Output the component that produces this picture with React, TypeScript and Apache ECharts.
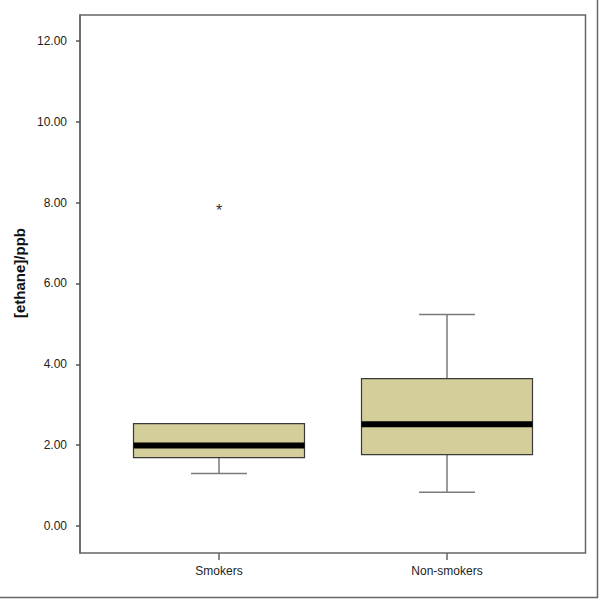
import React, { useEffect, useRef } from "react";
import * as echarts from "echarts";

const categories = ["Smokers", "Non-smokers"];
// [min, Q1, median, Q3, max]
const boxMin = [1.3, 0.834];
const boxQ1 = [1.69, 1.764];
const boxMedian = [1.99, 2.516];
const boxQ3 = [2.531, 3.645];
const boxMax = [2.531, 5.23];
// outliers: [categoryIndex, value]
const outlierCategory = [0];
const outlierValue = [7.905];
const yTicks = [0, 2, 4, 6, 8, 10, 12];

const FONT = "Arial, 'Liberation Sans', sans-serif";

export default function App() {
  const ref = useRef<HTMLDivElement>(null);
  useEffect(() => {
    document.body.style.margin = "0";
    const chart = echarts.init(ref.current!, null, { renderer: "svg" });
    const boxData = categories.map((_, i) => [i, boxMin[i], boxQ1[i], boxMedian[i], boxQ3[i], boxMax[i]]);
    const outData = outlierCategory.map((c, i) => [c, outlierValue[i]]);
    const option: any = {
      animation: false,
      backgroundColor: "#ffffff",
      grid: { left: 105, right: 39, top: 15, bottom: 47 },
      xAxis: {
        type: "category",
        data: categories,
        boundaryGap: true,
        axisLine: { show: false, onZero: false },
        axisTick: { show: true, alignWithLabel: true, length: 7, lineStyle: { color: "#666", width: 1.5 } },
        axisLabel: { color: "#222", fontSize: 12, fontFamily: FONT, margin: 12 },
        splitLine: { show: false },
      },
      yAxis: {
        type: "value",
        min: -0.668,
        max: 12.643,
        offset: 25,
        axisLine: { show: true, lineStyle: { color: "#666", width: 1.5 } },
        axisTick: { show: true, length: 4, customValues: yTicks, lineStyle: { color: "#555", width: 1.5 } },
        axisLabel: {
          color: "#222",
          fontSize: 12,
          fontFamily: FONT,
          margin: 13,
          customValues: yTicks,
          formatter: (v: number) => v.toFixed(2),
        },
        splitLine: { show: false },
      },
      graphic: [
        {
          type: "rect",
          shape: { x: 80, y: 15, width: 505.5, height: 538 },
          style: { fill: "none", stroke: "#666", lineWidth: 1.5 },
          z: 0,
          silent: true,
        },
        {
          type: "line",
          shape: { x1: 597.5, y1: 0, x2: 597.5, y2: 598 },
          style: { stroke: "#666", lineWidth: 1.5 },
          silent: true,
        },
        {
          type: "line",
          shape: { x1: 0, y1: 597.5, x2: 598, y2: 597.5 },
          style: { stroke: "#666", lineWidth: 1.5 },
          silent: true,
        },
        {
          type: "text",
          x: 19,
          y: 273,
          rotation: Math.PI / 2,
          style: {
            text: "[ethane]/ppb",
            font: `bold 15px ${FONT}`,
            fill: "#111",
            textAlign: "center",
            textVerticalAlign: "middle",
          },
          silent: true,
        },
      ],
      series: [
        {
          type: "custom",
          data: boxData,
          z: 5,
          renderItem: (params: any, api: any) => {
            const idx = api.value(0);
            const band = api.size([1, 0])[0];
            const pMin = api.coord([idx, api.value(1)]);
            const pQ1 = api.coord([idx, api.value(2)]);
            const pMed = api.coord([idx, api.value(3)]);
            const pQ3 = api.coord([idx, api.value(4)]);
            const pMax = api.coord([idx, api.value(5)]);
            const cx = pMed[0];
            const bw = band * 0.75;
            const cw = band * 0.245;
            const children: any[] = [];
            const whisker = { stroke: "#7a7a7a", lineWidth: 1.5 };
            if (pMax[1] < pQ3[1] - 0.5) {
              children.push({ type: "line", shape: { x1: cx, y1: pQ3[1], x2: cx, y2: pMax[1] }, style: whisker });
              children.push({ type: "line", shape: { x1: cx - cw / 2, y1: pMax[1], x2: cx + cw / 2, y2: pMax[1] }, style: whisker });
            }
            if (pMin[1] > pQ1[1] + 0.5) {
              children.push({ type: "line", shape: { x1: cx, y1: pQ1[1], x2: cx, y2: pMin[1] }, style: whisker });
              children.push({ type: "line", shape: { x1: cx - cw / 2, y1: pMin[1], x2: cx + cw / 2, y2: pMin[1] }, style: whisker });
            }
            children.push({
              type: "rect",
              shape: { x: cx - bw / 2, y: pQ3[1], width: bw, height: pQ1[1] - pQ3[1] },
              style: { fill: "#d3ce9a", stroke: "#3a3a3a", lineWidth: 1.2 },
            });
            children.push({
              type: "line",
              shape: { x1: cx - bw / 2, y1: pMed[1], x2: cx + bw / 2, y2: pMed[1] },
              style: { stroke: "#000", lineWidth: 6 },
            });
            return { type: "group", children };
          },
        },
        {
          type: "custom",
          data: outData,
          z: 6,
          renderItem: (params: any, api: any) => {
            const p = api.coord([api.value(0), api.value(1)]);
            return {
              type: "text",
              x: p[0],
              y: p[1] + 4,
              style: {
                text: "*",
                font: `16px ${FONT}`,
                fill: "#333",
                textAlign: "center",
                textVerticalAlign: "middle",
              },
            };
          },
        },
      ],
    };
    chart.setOption(option);
    return () => chart.dispose();
  }, []);
  return (
    <div
      ref={ref}
      style={{ position: "fixed", left: 0, top: 0, width: 600, height: 600 }}
    />
  );
}
